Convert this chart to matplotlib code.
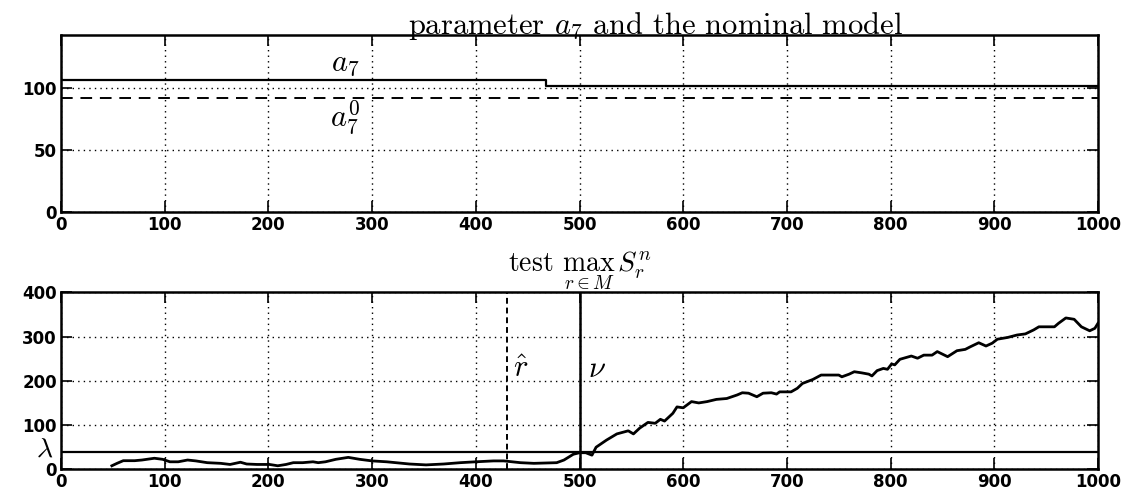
import matplotlib
matplotlib.use("Agg")
import matplotlib.pyplot as plt

plt.rcParams["mathtext.fontset"] = "cm"

# top panel: parameter a7 and its nominal value
t_range = [0, 1000]
a7_t = [0, 468, 468, 1000]
a7_val = [107, 107, 101.5, 101.5]
a7_nominal = [92.5, 92.5]

# bottom panel: test statistic max S_r^n
s_t = [49, 54, 60, 71, 78, 90, 98, 105, 113, 122,
       130, 141, 154, 163, 173, 179, 189, 201, 209, 217,
       224, 233, 243, 248, 255, 265, 277, 288, 300, 314,
       336, 352, 369, 385, 400, 417, 427, 443, 456, 478,
       485, 494, 500, 506, 512, 516, 526, 536, 547, 552,
       558, 566, 573, 578, 582, 590, 594, 600, 608, 615,
       623, 632, 642, 652, 657, 663, 671, 677, 685, 690,
       693, 704, 710, 715, 725, 733, 750, 753, 760, 765,
       772, 779, 782, 787, 793, 797, 801, 804, 809, 820,
       826, 832, 840, 845, 855, 864, 872, 877, 885, 892,
       898, 903, 913, 922, 930, 938, 943, 958, 962, 969,
       977, 984, 992, 997, 1000]
s_val = [8, 13.5, 19.5, 19.5, 21, 25, 22.6, 17, 17, 21,
         19, 15, 13.5, 11, 16, 12, 11, 11, 8, 11,
         15, 15, 17, 15, 17, 22.6, 27, 22.6, 19, 17,
         12, 10, 12, 15, 17, 19, 19, 15, 13.5, 15,
         21, 34, 37.5, 37.5, 32, 50, 66, 80, 87, 80,
         93, 106, 104, 113, 109, 126.5, 141, 139, 153, 150,
         153, 158, 160, 168, 173, 172, 164, 172, 173, 170,
         175, 175, 183, 194, 203, 213, 213, 209, 215, 220.5,
         218, 215, 211, 223, 228, 226, 238, 236, 248.6, 256,
         251, 258, 258, 266, 254.5, 268, 271, 277, 286, 278.6,
         285, 294, 298, 303.5, 306, 315, 322, 322, 330, 342,
         339, 322, 313, 318.6, 330]
threshold = 40
r_hat = 430
nu = 500

xticks = list(range(0, 1001, 100))
top_yticks = [0, 50, 100]
bot_yticks = [0, 100, 200, 300, 400]

fig = plt.figure(figsize=(11.41, 4.97), dpi=100)
ax1 = fig.add_axes([0.0535, 0.5734, 0.9088, 0.3562])
ax2 = fig.add_axes([0.0535, 0.0557, 0.9088, 0.3562])

tick_font = dict(fontsize=12, fontweight="bold", family="DejaVu Sans")

for ax, yt in [(ax1, top_yticks), (ax2, bot_yticks)]:
    ax.set_xlim(0, 1000)
    ax.set_xticks(xticks)
    ax.set_yticks(yt)
    ax.set_xticklabels([str(v) for v in xticks], **tick_font)
    ax.set_yticklabels([str(v) for v in yt], **tick_font)
    ax.grid(True, color="black", linestyle=(0, (1, 3)), linewidth=1.0)
    ax.tick_params(direction="in", length=8, width=1.2, top=True, right=True, pad=3)
    for sp in ax.spines.values():
        sp.set_linewidth(1.8)

# top panel
ax1.set_ylim(0, 143)
ax1.plot(a7_t, a7_val, color="black", linewidth=1.6)
ax1.plot(t_range, a7_nominal, color="black", linewidth=1.4, linestyle=(0, (6, 4)))
ax1.text(274, 108, r"$a_7$", fontsize=22, ha="center", va="bottom")
ax1.text(274, 76, r"$a_7^0$", fontsize=22, ha="center", va="center")
ax1.set_title("parameter $a_7$ and the nominal model", family="cmr10",
              fontsize=22, x=0.573, pad=1)

# bottom panel
ax2.set_ylim(0, 400)
ax2.plot(s_t, s_val, color="black", linewidth=2.0)
ax2.axhline(threshold, color="black", linewidth=1.6)
ax2.axvline(nu, color="black", linewidth=1.8)
ax2.axvline(r_hat, color="black", linewidth=1.4, linestyle=(0, (3, 2)))
ax2.text(r_hat + 6, 228, r"$\hat{r}$", fontsize=22, ha="left", va="center")
ax2.text(nu + 8, 228, r"$\nu$", fontsize=22, ha="left", va="center")
ax2.text(-8, 47, r"$\lambda$", fontsize=20, ha="right", va="center")
ax2.set_title(r"test $\underset{r\in M}{\max}\,S_r^n$", family="cmr10",
              fontsize=20, pad=16)

fig.savefig("out.png", dpi=100)
